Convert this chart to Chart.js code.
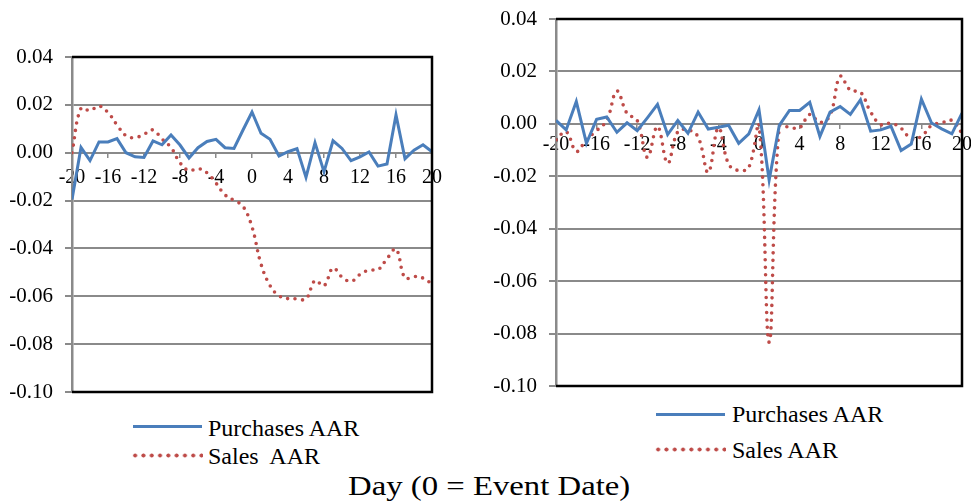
<!DOCTYPE html>
<html>
<head>
<meta charset="utf-8">
<script src="https://cdn.jsdelivr.net/npm/chart.js@4.4.1/dist/chart.umd.min.js"></script>
<style>
  body { margin: 0; background: #fff; width: 971px; height: 502px; position: relative; overflow: hidden; }
  .box { position: absolute; top: 0; }
  .txt { position: absolute; font-family: "Liberation Serif", "Times New Roman", serif; font-size: 24px; line-height: 24px; color: #000; white-space: pre; }
  .solid { position: absolute; height: 0; border-top: 3px solid #4a7ebb; }
  .dots { position: absolute; height: 5px; background: radial-gradient(circle, #be4b48 1.7px, rgba(190,75,72,0) 2.3px) repeat-x; background-size: 8.3px 5px; }
</style>
</head>
<body>
<div class="box" style="left:0px"><canvas id="chart-left" width="450" height="400"></canvas></div>
<div class="box" style="left:480px"><canvas id="chart-right" width="491" height="400"></canvas></div>

<div class="solid" style="left:133px; top:425px; width:69px"></div>
<div class="txt" style="left:208px; top:416px">Purchases AAR</div>
<div class="dots" style="left:131px; top:453px; width:72px"></div>
<div class="txt" style="left:208px; top:444px">Sales  AAR</div>

<div class="solid" style="left:656px; top:413px; width:69px"></div>
<div class="txt" style="left:732px; top:402px">Purchases AAR</div>
<div class="dots" style="left:654px; top:447px; width:72px"></div>
<div class="txt" style="left:732px; top:438px">Sales AAR</div>

<div class="txt" style="left:348px; top:472px; font-size:28px; line-height:28px; transform:scaleX(1.17); transform-origin:0 0">Day (0 = Event Date)</div>

<script>
// event days
var days = [-20, -19, -18, -17, -16, -15, -14, -13, -12, -11, -10, -9, -8, -7, -6, -5, -4, -3, -2, -1,
    0, 1, 2, 3, 4, 5, 6, 7, 8, 9, 10, 11, 12, 13, 14, 15, 16, 17, 18, 19, 20];

// left panel
var purchases_left = [-0.0195, 0.0022, -0.0033, 0.0045, 0.0045, 0.0059, 0.0000, -0.0017, -0.0020, 0.0049,
    0.0033, 0.0074, 0.0032, -0.0022, 0.0021, 0.0047, 0.0056, 0.0021, 0.0018, 0.0095,
    0.0170, 0.0081, 0.0056, -0.0014, 0.0004, 0.0017, -0.0103, 0.0042, -0.0080, 0.0050,
    0.0018, -0.0033, -0.0017, 0.0003, -0.0056, -0.0047, 0.0158, -0.0025, 0.0011, 0.0033, 0.0004];
var sales_left = [0.0000, 0.0186, 0.0176, 0.0195, 0.0168, 0.0116, 0.0071, 0.0063, 0.0077, 0.0095,
    0.0057, 0.0022, -0.0042, -0.0075, -0.0066, -0.0084, -0.0127, -0.0176, -0.0199, -0.0224,
    -0.0310, -0.0465, -0.0555, -0.0598, -0.0610, -0.0610, -0.0612, -0.0534, -0.0556, -0.0482,
    -0.0520, -0.0538, -0.0509, -0.0490, -0.0489, -0.0443, -0.0403, -0.0524, -0.0517, -0.0524, -0.0549];

// right panel
var purchases_right = [0.0013, -0.0023, 0.0085, -0.0074, 0.0017, 0.0026, -0.0032, 0.0004, -0.0026, 0.0023,
    0.0074, -0.0041, 0.0013, -0.0036, 0.0045, -0.0020, -0.0013, -0.0005, -0.0074, -0.0038,
    0.0054, -0.0214, -0.0006, 0.0051, 0.0051, 0.0082, -0.0048, 0.0045, 0.0066, 0.0036,
    0.0092, -0.0028, -0.0023, -0.0009, -0.0102, -0.0077, 0.0094, 0.0003, -0.0019, -0.0038, 0.0041];
var sales_right = [-0.0061, -0.0030, -0.0105, -0.0060, -0.0026, 0.0013, 0.0125, 0.0040, 0.0013, -0.0128,
    -0.0010, -0.0150, -0.0030, -0.0023, -0.0050, -0.0185, -0.0015, -0.0153, -0.0178, -0.0166,
    -0.0006, -0.0833, -0.0010, -0.0013, -0.0015, 0.0036, 0.0006, 0.0032, 0.0181, 0.0128,
    0.0121, 0.0045, -0.0003, 0.0003, -0.0017, -0.0057, -0.0048, -0.0006, 0.0004, 0.0013, -0.0036];

var y_min = -0.10;
var y_max = 0.04;
var y_step = 0.02;
var x_step = 4;

var font_family = "'Liberation Serif', 'Times New Roman', serif";
var blue = "#4a7ebb";
var red = "#be4b48";
var grid_gray = "#8a8a8a";

function toPoints(vals) {
    var pts = [];
    for (let i = 0; i < days.length; i++) {
        pts.push({ x: days[i], y: vals[i] });
    }
    return pts;
}

// black frame on top, right and bottom of the plot area (Excel style)
var framePlugin = {
    id: "frame",
    afterDraw: function(chart) {
        var a = chart.chartArea;
        var c = chart.ctx;
        c.save();
        c.strokeStyle = "#000";
        c.lineWidth = 2.5;
        c.beginPath();
        c.moveTo(a.left, a.top);
        c.lineTo(a.right, a.top);
        c.lineTo(a.right, a.bottom);
        c.lineTo(a.left, a.bottom);
        c.stroke();
        c.restore();
    },
};

// stop the scales from pushing the plot area in, layout padding decides
function noPadding(scale) {
    scale.paddingTop = 0;
    scale.paddingBottom = 0;
    scale.paddingLeft = 0;
    scale.paddingRight = 0;
}

function makeChart(id, purchases, sales, pad, yWidth, xPad) {
    var ctx = document.getElementById(id).getContext("2d");
    return new Chart(ctx, {
        type: "line",
        data: {
            datasets: [{
                label: "Purchases AAR",
                data: toPoints(purchases),
                borderColor: blue,
                borderWidth: 3,
                pointRadius: 0,
                tension: 0,
            }, {
                label: "Sales AAR",
                data: toPoints(sales),
                borderColor: red,
                borderWidth: 3.6,
                borderDash: [0, 7.5],
                borderCapStyle: "round",
                pointRadius: 0,
                tension: 0.4,
            }, ],
        },
        options: {
            responsive: false,
            animation: false,
            layout: { padding: pad },
            plugins: {
                legend: { display: false },
                tooltip: { enabled: false },
            },
            scales: {
                x: {
                    type: "linear",
                    position: { y: 0 },
                    min: -20,
                    max: 20,
                    afterFit: noPadding,
                    ticks: {
                        stepSize: x_step,
                        color: "#000",
                        padding: xPad,
                        maxRotation: 0,
                        font: { family: font_family, size: 20 },
                    },
                    grid: {
                        drawOnChartArea: false,
                        drawTicks: true,
                        tickLength: 5,
                        color: grid_gray,
                        lineWidth: 1.5,
                    },
                    border: { display: false },
                },
                y: {
                    min: y_min,
                    max: y_max,
                    afterFit: function(scale) {
                        noPadding(scale);
                        scale.width = yWidth;
                    },
                    ticks: {
                        stepSize: y_step,
                        color: "#000",
                        padding: 12,
                        font: { family: font_family, size: 21 },
                        callback: function(v) {
                            if (Math.abs(v) < 1e-9) return "0.00";
                            return Number(v).toFixed(2);
                        },
                    },
                    grid: {
                        color: grid_gray,
                        lineWidth: 2,
                        tickLength: 7,
                    },
                    border: { color: grid_gray, width: 2.5 },
                },
            },
        },
        plugins: [framePlugin],
    });
}

makeChart("chart-left", purchases_left, sales_left, { left: 0, top: 57, right: 18, bottom: 8 }, 72, 8);
makeChart("chart-right", purchases_right, sales_right, { left: 0, top: 19, right: 9, bottom: 14 }, 76, 4);
</script>
</body>
</html>
